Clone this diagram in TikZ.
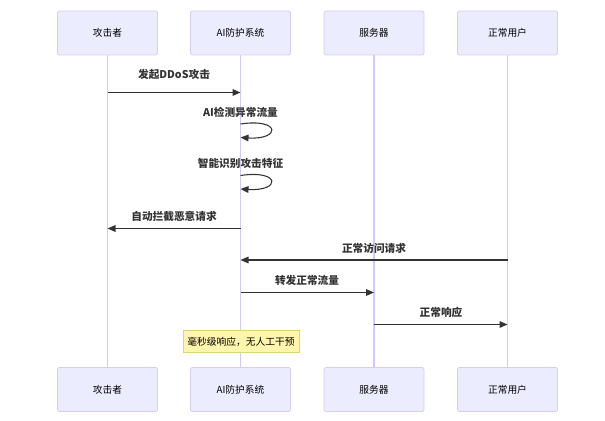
\documentclass[tikz,border=0pt]{standalone}
\usepackage{fontspec}
\setmainfont{Liberation Sans}
\newfontfamily\cjk{Noto Sans CJK SC}
\usetikzlibrary{arrows.meta}
\definecolor{boxfill}{HTML}{ECECFF}
\definecolor{boxdraw}{HTML}{D8CCF4}
\definecolor{lifeln}{HTML}{D4C8F4}
\definecolor{notefill}{HTML}{FFF5AD}
\definecolor{notedraw}{HTML}{D8D870}
\definecolor{msgc}{HTML}{333333}
\begin{document}
\begin{tikzpicture}[x=0.75pt,y=-0.75pt,
  actor/.style={draw=boxdraw,fill=boxfill,rounded corners=1.5pt,minimum width=75pt,minimum height=33pt,inner sep=0pt,font=\cjk\fontsize{7.3}{8}\selectfont,line width=0.6pt},
  life/.style={draw=lifeln,line width=0.8pt},
  msg/.style={draw=msgc,line width=0.8pt,-{Triangle[length=6pt,width=5pt]}},
  lbl/.style={font=\cjk\bfseries\fontsize{8}{9}\selectfont,text=msgc,inner sep=0pt},
  notebox/.style={draw=notedraw,fill=notefill,minimum width=87pt,minimum height=17pt,inner sep=0pt,font=\cjk\fontsize{7.3}{8}\selectfont,line width=0.6pt}]
\useasboundingbox (0,0) rectangle (605,420);
% actors
\node[actor] (a1) at (107.5,33) {攻击者};
\node[actor] (a2) at (240.5,33) {AI防护系统};
\node[actor] (a3) at (374,33) {服务器};
\node[actor] (a4) at (507.5,33) {正常用户};
\node[actor] (b1) at (107.5,389.5) {攻击者};
\node[actor] (b2) at (240.5,389.5) {AI防护系统};
\node[actor] (b3) at (374,389.5) {服务器};
\node[actor] (b4) at (507.5,389.5) {正常用户};
% lifelines
\draw[life] (a1) -- (b1);
\draw[life] (a2) -- (b2);
\draw[life] (a3) -- (b3);
\draw[life] (a4) -- (b4);
% coordinates on lifelines
\coordinate (m1s) at (107.5,92.5); \coordinate (m1e) at (240.5,92.5);
\coordinate (l1s) at (240.5,124); \coordinate (l1e) at (240.5,137.5);
\coordinate (l2s) at (240.5,175.5); \coordinate (l2e) at (240.5,189);
\coordinate (m3s) at (240.5,228.5); \coordinate (m3e) at (107.5,228.5);
\coordinate (m4s) at (507.5,260); \coordinate (m4e) at (240.5,260);
\coordinate (m5s) at (240.5,292.5); \coordinate (m5e) at (374,292.5);
\coordinate (m6s) at (374,324.5); \coordinate (m6e) at (507.5,324.5);
% messages
\draw[msg] (m1s) -- (m1e);
\node[lbl] (t1) at (174,74) {发起DDoS攻击};
\node[lbl] (t2) at (240.5,112.5) {AI检测异常流量};
\draw[msg] (l1s) .. controls (281,118) and (281,140) .. (l1e);
\node[lbl] (t3) at (240.5,163.5) {智能识别攻击特征};
\draw[msg] (l2s) .. controls (281,169.5) and (281,191.5) .. (l2e);
\draw[msg] (m3s) -- (m3e);
\node[lbl] (t4) at (174,216) {自动拦截恶意请求};
\draw[msg] (m4s) -- (m4e);
\node[lbl] (t5) at (374,248) {正常访问请求};
\draw[msg] (m5s) -- (m5e);
\node[lbl] (t6) at (307,280.5) {转发正常流量};
\draw[msg] (m6s) -- (m6e);
\node[lbl] (t7) at (441,312.5) {正常响应};
% note
\node[notebox] (n1) at (241,341.5) {毫秒级响应，无人工干预};
\end{tikzpicture}
\end{document}
